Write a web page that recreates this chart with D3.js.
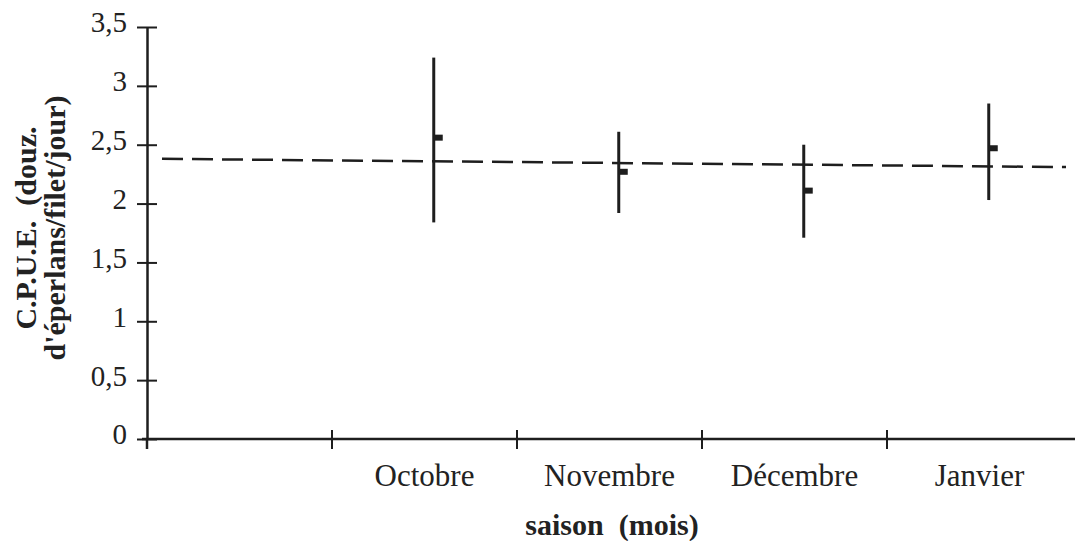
<!DOCTYPE html>
<html>
<head>
<meta charset="utf-8">
<script src="https://cdn.jsdelivr.net/npm/d3@7/dist/d3.min.js"></script>
<style>
  html, body { margin: 0; padding: 0; background: #fff; }
  svg { display: block; }
  text { font-family: "Liberation Serif", "Times New Roman", serif; fill: #222; }
</style>
</head>
<body>
<svg id="chart" width="1075" height="541"></svg>
<script>
// ---- data ----
const categories = ["", "Octobre", "Novembre", "Décembre", "Janvier"];
const months = ["Octobre", "Novembre", "Décembre", "Janvier"];
const meanValues = [2.56, 2.27, 2.11, 2.47];
const lowValues = [1.84, 1.92, 1.71, 2.03];
const highValues = [3.24, 2.61, 2.50, 2.85];
const overallMeanLine = [2.38, 2.31]; // left end, right end (as drawn)
const yTicks = [0, 0.5, 1, 1.5, 2, 2.5, 3, 3.5];
const yTitleLines = ["C.P.U.E.  (douz.", "d'éperlans/filet/jour)"];
const xTitle = "saison  (mois)";

// ---- layout ----
const svg = d3.select("#chart");
const ink = "#1e1e1e";
const x = d3.scaleBand().domain(categories).range([147, 1072]).paddingInner(0).paddingOuter(0);
const y = d3.scaleLinear().domain([0, 3.5]).range([439, 27]);
const fr = d3.formatLocale({decimal: ",", thousands: " ", grouping: [3], currency: ["", ""]});
const fmt = d => d === 0 ? "0" : fr.format("~g")(d);

// y axis
const yAxis = svg.append("g").attr("transform", `translate(${x.range()[0]},0)`)
  .call(d3.axisLeft(y).tickValues(yTicks).tickFormat(fmt).tickSizeOuter(0).tickSizeInner(10).tickPadding(10));
yAxis.select(".domain").attr("stroke", ink).attr("stroke-width", 2.5);
yAxis.selectAll(".tick line").attr("x1", 10).attr("stroke", ink).attr("stroke-width", 2);
yAxis.selectAll(".tick text").attr("font-size", 29).attr("dy", "0.17em")
  .style("font-family", '"Liberation Serif", serif').attr("fill", ink);

// x axis (labels at band centers)
const xAxis = svg.append("g").attr("transform", `translate(0,${y(0)})`)
  .call(d3.axisBottom(x).tickSize(0).tickSizeOuter(0).tickPadding(25));
xAxis.select(".domain").attr("stroke", ink).attr("stroke-width", 2.5)
  .attr("d", `M${x.range()[0] - 5},0H${x.range()[1] + 3}`);
xAxis.selectAll(".tick text").attr("font-size", 31)
  .style("font-family", '"Liberation Serif", serif').attr("fill", ink);

// boundary ticks on x axis (cross the axis)
svg.append("g").selectAll("line").data(months).join("line")
  .attr("x1", d => x(d)).attr("x2", d => x(d))
  .attr("y1", y(0) - 9).attr("y2", y(0) + 10)
  .attr("stroke", ink).attr("stroke-width", 2);
// tick under origin
svg.append("line").attr("x1", x.range()[0]).attr("x2", x.range()[0])
  .attr("y1", y(0)).attr("y2", y(0) + 10).attr("stroke", ink).attr("stroke-width", 2.5);

// dashed overall mean line
svg.append("line")
  .attr("x1", 162).attr("x2", 1066)
  .attr("y1", y(overallMeanLine[0])).attr("y2", y(overallMeanLine[1]))
  .attr("stroke", ink).attr("stroke-width", 2.5).attr("stroke-dasharray", "21 9");

// error bars
const off = x.bandwidth() * 0.05;
const bars = svg.append("g").selectAll("g").data(months).join("g");
bars.append("line")
  .attr("x1", d => x(d) + x.bandwidth() / 2 + off).attr("x2", d => x(d) + x.bandwidth() / 2 + off)
  .attr("y1", (d, i) => y(highValues[i])).attr("y2", (d, i) => y(lowValues[i]))
  .attr("stroke", ink).attr("stroke-width", 3);
bars.append("rect")
  .attr("x", d => x(d) + x.bandwidth() / 2 + off)
  .attr("y", (d, i) => y(meanValues[i]) - 3)
  .attr("width", 9).attr("height", 6).attr("fill", ink);

// axis titles
svg.append("text").attr("x", 612).attr("y", 535).attr("text-anchor", "middle")
  .attr("font-size", 30).attr("font-weight", "bold").style("white-space", "pre").text(xTitle);
const yt = svg.append("text").attr("transform", "translate(0,228) rotate(-90)")
  .attr("text-anchor", "middle").attr("font-size", 30).attr("font-weight", "bold").style("white-space", "pre");
yt.append("tspan").attr("x", 0).attr("y", 36).text(yTitleLines[0]);
yt.append("tspan").attr("x", 0).attr("y", 65).text(yTitleLines[1]);
</script>
</body>
</html>
